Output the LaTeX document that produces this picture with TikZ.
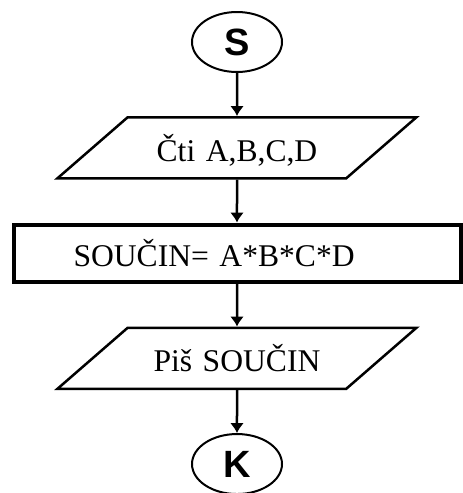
\documentclass[tikz,border=0pt]{standalone}
\usepackage{fontspec}
\setmainfont{Liberation Serif}
\setsansfont{Liberation Sans}
\usepackage{tikz}
\usetikzlibrary{positioning,shapes.geometric,arrows.meta}

\begin{document}
\begin{tikzpicture}[node distance=21.5pt, auto]
	% Define styles for the flowchart shapes
	\tikzset{
		terminal/.style={
			ellipse,
			draw,
			line width=1pt,
			minimum width=45pt,
			minimum height=30pt,
			inner sep=0pt,
			font=\fontsize{19}{22}\selectfont\sffamily\bfseries
		},
		iobox/.style={
			trapezium,
			draw,
			line width=1.25pt,
			trapezium left angle=41,
			trapezium right angle=139,
			text width=109.3pt,
			text height=14pt,
			text depth=0.5pt,
			align=center,
			inner xsep=0pt,
			inner ysep=8pt,
			font=\fontsize{15.8}{19}\selectfont
		},
		processbox/.style={
			rectangle,
			draw,
			line width=2pt,
			minimum height=28.5pt,
			inner xsep=30pt,
			text width=163.5pt,
			align=left,
			font=\fontsize{15.8}{19}\selectfont
		},
		flow/.style={
			-{Latex[length=5pt,width=7pt]},
			line width=1.25pt
		}
	}
	\useasboundingbox (0,0) rectangle (231pt,-246.5pt);
	
	% Nodes of the flowchart
	\node[terminal] (start) at (118.5pt,-21pt) {S};
	\node[iobox, below=of start] (readABCD) {Čti A,B,C,D};
	\node[processbox, below=of readABCD] (product) {SOUČIN= A*B*C*D};
	\node[iobox, below=of product] (writeProduct) {Piš SOUČIN};
	\node[terminal, below=of writeProduct] (stop) {K};
	
	% Arrows between the nodes
	\draw[flow] (start) -- (readABCD);
	\draw[flow] (readABCD) -- (product);
	\draw[flow] (product) -- (writeProduct);
	\draw[flow] (writeProduct) -- (stop);
\end{tikzpicture}
\end{document}
